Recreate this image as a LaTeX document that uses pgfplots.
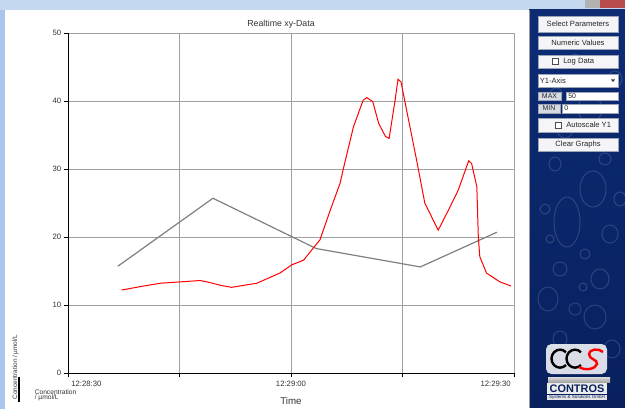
\documentclass[border=0pt]{standalone}
\usepackage{pgfplots}
\pgfplotsset{compat=1.18}
\usepackage{fontspec}
\setmainfont{Liberation Sans}
\newcommand\fs[1]{\fontsize{#1}{#1}\selectfont}
\definecolor{topblue}{HTML}{C4D9F0}
\definecolor{sideblue}{HTML}{A9C7EC}
\definecolor{navy}{HTML}{0D2C74}
\definecolor{navydark}{HTML}{08205E}
\definecolor{gridgray}{HTML}{A0A0A0}
\definecolor{lineg}{HTML}{808080}
\definecolor{btn}{HTML}{F5F5F7}
\definecolor{btnb}{HTML}{9AA3B8}
\definecolor{lbl}{HTML}{D6DAE3}
\begin{document}
\begin{tikzpicture}[x=0.75pt,y=0.75pt]
% window background
\fill[white] (0,0) rectangle (625,409);
\fill[topblue] (0,399) rectangle (625,409);
\fill[sideblue] (0,0) rectangle (4.5,399);
\fill[gray!60] (585,401) rectangle (600,409);
\fill[red!60!black!70] (600,401) rectangle (625,409);
% right panel
\shade[top color=navy, bottom color=navydark] (529,1.5) rectangle (625,399);
\draw[gray!80, line width=0.75] (529,1.5) -- (529,399);
\begin{scope}
\clip (529,1.5) rectangle (625,399);
\foreach \cx/\cy/\rx/\ry in {567/187/13/25, 593/220/13/18, 555/245/6/7, 610/175/8/9,
  560/140/7/7, 585/155/5/5, 600/130/9/10, 548/110/10/12, 575/100/6/6, 595/92/11/12,
  560/70/7/8, 612/60/8/9, 590/300/12/14, 615/330/7/8, 556/315/6/6, 575/350/5/5,
  605/250/6/6, 545/200/5/5, 620/210/6/7, 583/122/4/4, 565/280/8/9, 550/170/4/4}
  {\draw[white, opacity=0.14, line width=0.8] (\cx,\cy) ellipse [x radius=\rx, y radius=\ry];}
\end{scope}
% buttons
\tikzset{btnst/.style={fill=btn, draw=btnb, line width=0.5}}
\draw[btnst] (538,377) rectangle (618,393);
\node[font=\fs{5.7}, text=black!85] at (578,385) {Select Parameters};
\draw[btnst] (538,360) rectangle (618,373);
\node[font=\fs{5.7}, text=black!85] at (578,366.5) {Numeric Values};
\draw[btnst] (538,341) rectangle (618,354);
\draw[fill=white, draw=black!70, line width=0.5] (552.5,344.5) rectangle (558.5,350.5);
\node[font=\fs{5.7}, text=black!85, anchor=west, inner sep=0] at (563,347.5) {Log Data};
\draw[fill=white, draw=btnb, line width=0.5] (538,322) rectangle (618,335);
\node[font=\fs{5.7}, text=black!85, anchor=west, inner sep=0] at (539.5,328.5) {Y1-Axis};
\fill[black!80] (611,329.5) -- (615,329.5) -- (613,327) -- cycle;
\draw[fill=lbl, draw=btnb, line width=0.5] (538,309) rectangle (561,317);
\node[font=\fs{5.2}, text=black!85] at (549.5,313) {MAX};
\draw[fill=white, draw=btnb, line width=0.5] (566,309) rectangle (618,317);
\node[font=\fs{5.2}, text=black!85, anchor=west, inner sep=0] at (568,313) {50};
\draw[fill=lbl, draw=btnb, line width=0.5] (538,296) rectangle (560,305);
\node[font=\fs{5.2}, text=black!85] at (549,300.5) {MIN};
\draw[fill=white, draw=btnb, line width=0.5] (562,296) rectangle (618,305);
\node[font=\fs{5.2}, text=black!85, anchor=west, inner sep=0] at (564,300.5) {0};
\draw[btnst] (538,277) rectangle (618,291);
\draw[fill=white, draw=black!70, line width=0.5] (555,281) rectangle (561,287);
\node[font=\fs{5.7}, text=black!85, anchor=west, inner sep=0] at (566,284) {Autoscale Y1};
\draw[btnst] (538,258) rectangle (618,271);
\node[font=\fs{5.7}, text=black!85] at (578,264.5) {Clear Graphs};
% logo
\fill[white, opacity=0.85, rounded corners=4] (546,35) rectangle (607,65);
\draw[black, line width=1.8] (566,56.7) arc[start angle=45, end angle=315, x radius=8.5, y radius=9];
\draw[black, line width=1.8] (581,56.7) arc[start angle=45, end angle=315, x radius=8.5, y radius=9];
\draw[red, line width=1.8] (603,57) .. controls (599,61) and (589,60) .. (589,55)
  .. controls (589,49) and (598,50) .. (597,45) .. controls (596,40) and (585,38) .. (579,42);
\shade[top color=gray!30, bottom color=gray!70] (548,27) rectangle (610,32);
\fill[white!85!gray] (547,15) rectangle (607,26);
\node[font=\bfseries\fs{8.2}, text=navydark] at (577,20.5) {CONTROS};
\fill[white!80!gray] (547,9) rectangle (607,14);
\node[font=\fs{3.4}, text=navydark] at (577,11.5) {Systems \& Solutions GmbH};
% chart
\begin{axis}[at={(51pt,27pt)}, anchor=origin, scale only axis,
  width=334.5pt, height=255pt,
  xmin=0, xmax=60, ymin=0, ymax=50,
  axis lines=left, axis line style={-, black, line width=0.75pt},
  xtick={0,15,30,45,60}, xticklabels={},
  ytick={0,10,20,30,40,50},
  grid=major, major grid style={draw=gridgray, line width=0.75pt},
  tick style={black, line width=0.6pt}, tick align=outside, major tick length=3pt,
  yticklabel style={font=\fs{5.8}, text=black!80, xshift=1.5pt},
  /pgf/number format/assume math mode=true,
  clip=false]
\addplot[lineg, line width=0.9pt] coordinates {
 (6.7,15.7) (19.5,25.7) (33.4,18.3) (47.4,15.6) (57.7,20.7)};
\addplot[red, line width=0.75pt] coordinates {
 (7.2,12.2) (9.7,12.7) (12.4,13.2) (15.1,13.4) (17.8,13.6) (18.7,13.4) (20.5,12.9)
 (22.0,12.6) (25.4,13.2) (28.5,14.7) (30.1,15.9) (31.7,16.6) (33.9,19.6) (35.3,24.0)
 (36.6,27.9) (37.1,30.3) (38.4,36.2) (39.7,40.1) (40.2,40.5) (41.0,39.9) (41.8,36.7)
 (42.7,34.8) (43.2,34.5) (44.0,40.1) (44.4,43.2) (44.8,42.8) (46.0,36.2) (46.9,31.3)
 (48.0,25.0) (49.8,21.0) (51.2,24.0) (52.5,26.9) (53.9,31.2) (54.3,30.8) (55.0,27.4)
 (55.2,20.0) (55.4,17.1) (56.3,14.7) (58.1,13.4) (59.6,12.8)};
\end{axis}
% texts
\node[font=\fs{6.6}, text=black!80] at (281,384.5) {Realtime xy-Data};
\node[font=\fs{5.8}, text=black!80, anchor=west, inner sep=0] at (71,25) {12:28:30};
\node[font=\fs{5.8}, text=black!80, inner sep=0] at (291,25) {12:29:00};
\node[font=\fs{5.8}, text=black!80, anchor=east, inner sep=0] at (511,25) {12:29:30};
\node[font=\fs{7.3}, text=black!80] at (291,8) {Time};
\node[font=\fs{4.8}, text=black!80, rotate=90, inner sep=0] at (15.5,42) {Concentration / µmol/L};
\draw[black, line width=1.5] (19,7) -- (19,32);
\node[font=\fs{5}, text=black!80, anchor=west, inner sep=0] at (34.5,16.7) {Concentration};
\node[font=\fs{5}, text=black!80, anchor=west, inner sep=0] at (34.5,11.0) {/ µmol/L};
\end{tikzpicture}
\end{document}
